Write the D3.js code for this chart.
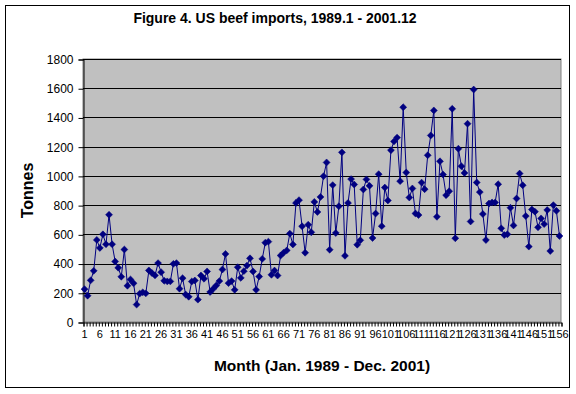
<!DOCTYPE html>
<html>
<head>
<meta charset="utf-8">
<script src="https://cdn.jsdelivr.net/npm/d3@7"></script>
<style>
  body { margin:0; background:#fff; }
  text { font-family: Arial, "Liberation Sans", sans-serif; }
</style>
</head>
<body>
<div class="viz"></div>
<script>
const width = 576;
const height = 394;
const plot = {left:83, right:561, top:59, bottom:322};

const title = 'Figure 4. US beef imports, 1989.1 - 2001.12';
const xTitle = 'Month (Jan. 1989 - Dec. 2001)';
const yTitle = 'Tonnes';

// monthly imports, Jan 1989 (1) .. Dec 2001 (156)
const tonnes = [
  225,180,285,350,562,507,600,532,734,532,414,371,
  310,496,248,291,265,119,194,203,196,353,335,319,
  403,341,282,278,278,398,403,228,300,188,173,277,
  284,153,318,296,346,205,227,250,280,359,466,266,
  280,220,375,302,348,386,436,346,220,311,432,543,
  550,323,352,318,455,475,490,605,531,815,834,655,
  474,666,614,822,753,856,998,1092,495,937,609,792,
  1161,453,815,978,941,529,559,907,976,932,575,742,
  1012,656,920,832,1176,1236,1262,964,1470,1023,852,914,
  743,732,954,909,1141,1277,1448,720,1100,1009,868,895,
  1459,573,1186,1066,1020,1357,688,1591,955,889,739,561,
  811,818,818,943,641,595,600,782,661,845,1016,936,
  725,516,770,755,648,709,670,766,486,800,761,589
];
const months = tonnes.map((d,i)=>i+1);
const monthLabels = months.filter(m=>(m-1)%5===0);
const yTicks = [0,200,400,600,800,1000,1200,1400,1600,1800];

const main = () => {
  const svg = d3.select('.viz')
    .append('svg')
      .attr('width', width)
      .attr('height', height);

  // outer chart frame
  svg.append('rect')
    .attr('x', 5.5).attr('y', 5.5)
    .attr('width', 564).attr('height', 382)
    .attr('fill', '#fff')
    .attr('stroke', '#000');

  const x = d3.scaleLinear()
    .domain([0.5, months.length + 0.5])
    .range([plot.left, plot.right]);

  const y = d3.scaleLinear()
    .domain([0, 1800])
    .range([plot.bottom, plot.top]);

  // plot area
  svg.append('rect')
    .attr('x', plot.left).attr('y', plot.top)
    .attr('width', plot.right-plot.left)
    .attr('height', plot.bottom-plot.top)
    .attr('fill', '#c0c0c0')
    .attr('stroke', '#808080');

  // gridlines
  svg.append('g')
    .selectAll('line.grid')
    .data(yTicks.filter(d=>d>0))
    .enter()
    .append('line')
      .attr('class','grid')
      .attr('x1', plot.left).attr('x2', plot.right)
      .attr('y1', d=>Math.round(y(d))+0.5)
      .attr('y2', d=>Math.round(y(d))+0.5)
      .attr('stroke', '#000');

  // y axis
  const yAxis = d3.axisLeft(y)
    .tickValues(yTicks)
    .tickSize(5)
    .tickPadding(5)
    .tickFormat(d3.format('d'));

  svg.append('g')
    .attr('transform', `translate(${plot.left+0.5},0.5)`)
    .call(yAxis)
    .call(g=>g.select('.domain').attr('stroke','#000'))
    .call(g=>g.selectAll('text').attr('font-size', 12).attr('fill','#000')
      .attr('font-family','Arial, "Liberation Sans", sans-serif'));

  // x axis: ticks on category boundaries
  const xAxis = d3.axisBottom(x)
    .tickValues(d3.range(0.5, months.length + 1, 1))
    .tickSize(4)
    .tickFormat('');

  svg.append('g')
    .attr('transform', `translate(0.5,${plot.bottom+0.5})`)
    .call(xAxis)
    .call(g=>g.select('.domain').attr('stroke','#000'));

  svg.append('g')
    .selectAll('text.month')
    .data(monthLabels)
    .enter()
    .append('text')
      .attr('class','month')
      .attr('x', d=>x(d))
      .attr('y', 338)
      .attr('text-anchor','middle')
      .attr('font-size', 11)
      .text(d=>d);

  // line + markers
  const line = d3.line()
    .x((d,i)=>x(months[i]))
    .y(d=>y(d));

  svg.append('path')
    .datum(tonnes)
    .attr('d', line)
    .attr('fill','none')
    .attr('stroke','#000080')
    .attr('stroke-width',1);

  const diamond = d3.symbol(d3.symbolSquare, 24);
  svg.append('g')
    .selectAll('path.pt')
    .data(tonnes)
    .enter()
    .append('path')
      .attr('class','pt')
      .attr('d', diamond)
      .attr('transform',(d,i)=>`translate(${x(months[i])},${y(d)}) rotate(45)`)
      .attr('fill','#000080')
      .attr('stroke','#000080')
      .attr('stroke-width',0.5);

  // titles
  svg.append('text')
    .attr('x', 275).attr('y', 23)
    .attr('text-anchor','middle')
    .attr('font-size', 14)
    .attr('font-weight','bold')
    .text(title);

  svg.append('text')
    .attr('x', (plot.left+plot.right)/2).attr('y', 371)
    .attr('text-anchor','middle')
    .attr('font-size', 15.5)
    .attr('font-weight','bold')
    .text(xTitle);

  svg.append('text')
    .attr('transform', `translate(33,${(plot.top+plot.bottom)/2}) rotate(-90)`)
    .attr('text-anchor','middle')
    .attr('font-size', 16)
    .attr('font-weight','bold')
    .text(yTitle);
}

window.onload = main;
</script>
</body>
</html>
